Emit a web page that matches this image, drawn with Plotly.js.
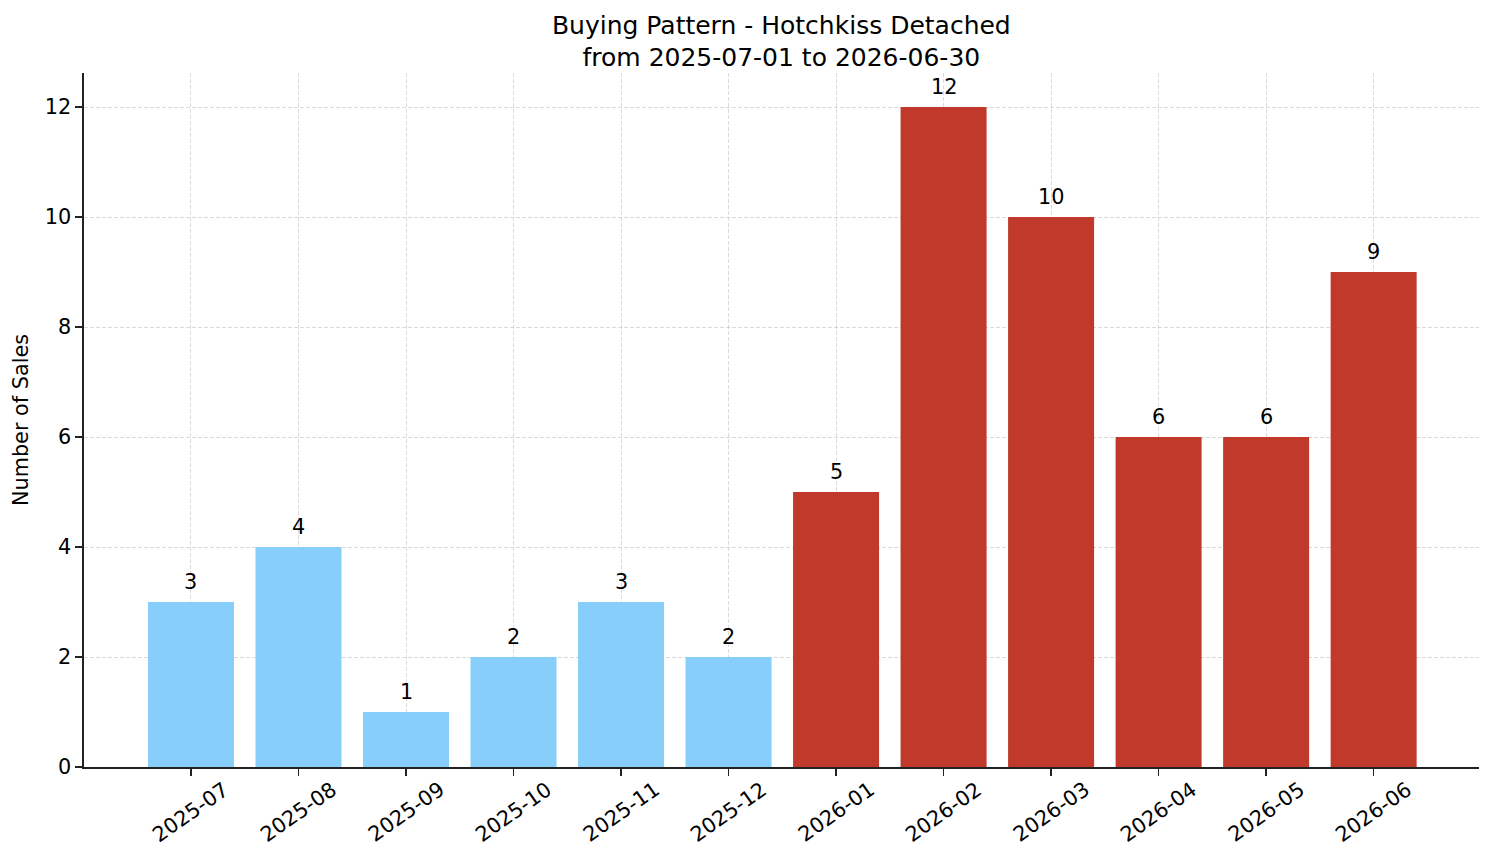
<!DOCTYPE html>
<html>
<head>
<meta charset="utf-8">
<script src="https://cdn.plot.ly/plotly-3.0.1.min.js"></script>
<style>html,body{margin:0;padding:0;background:#fff;}#chart{width:1494px;height:863px;}</style>
</head>
<body>
<div id="chart"></div>
<script>
const months = ["2025-07","2025-08","2025-09","2025-10","2025-11","2025-12","2026-01","2026-02","2026-03","2026-04","2026-05","2026-06"];
const sales = [3,4,1,2,3,2,5,12,10,6,6,9];
const barColors = ["#87CEFA","#87CEFA","#87CEFA","#87CEFA","#87CEFA","#87CEFA","#C0392B","#C0392B","#C0392B","#C0392B","#C0392B","#C0392B"];
const yTicks = [0,2,4,6,8,10,12];

const font = "DejaVu Sans, sans-serif";
const idx = months.map((m,i)=>i);

const trace = {
  type: "bar",
  x: idx,
  y: sales,
  width: 0.8,
  marker: {color: barColors, line: {width: 0}},
  hoverinfo: "skip"
};

const valueLabels = sales.map((v,i)=>({
  x: i, y: v, xref: "x", yref: "y",
  text: String(v), showarrow: false,
  yanchor: "bottom", yshift: 6,
  font: {family: font, size: 20.8, color: "#000"}
}));

const tickLabels = months.map((m,i)=>({
  x: i, y: 0, xref: "x", yref: "paper",
  text: m, showarrow: false, textangle: -35,
  xanchor: "center", yanchor: "middle", yshift: -45,
  font: {family: font, size: 20.8, color: "#000"}
}));

const layout = {
  width: 1494, height: 863,
  margin: {l: 84, r: 15, t: 73, b: 96},
  paper_bgcolor: "#fff", plot_bgcolor: "#fff",
  showlegend: false,
  title: {
    text: "Buying Pattern - Hotchkiss Detached<br>from 2025-07-01 to 2026-06-30",
    font: {family: font, size: 25, color: "#000"},
    x: 0.523, xanchor: "center", yref: "container", y: 0.961, yanchor: "middle"
  },
  xaxis: {
    range: [-0.995, 11.98],
    tickmode: "array", tickvals: idx, showticklabels: false,
    ticks: "outside", ticklen: 7, tickwidth: 1.6, tickcolor: "#222",
    showline: true, linecolor: "#222", linewidth: 1.6,
    showgrid: true, gridcolor: "rgba(170,170,170,0.55)", griddash: "4px,2px", gridwidth: 0.8,
    zeroline: false,
    layer: "above traces"
  },
  yaxis: {
    range: [0, 12.62],
    tickmode: "array", tickvals: yTicks,
    ticks: "outside", ticklen: 7, tickwidth: 1.6, tickcolor: "#222",
    showline: true, linecolor: "#222", linewidth: 1.6,
    showgrid: true, gridcolor: "rgba(170,170,170,0.55)", griddash: "4px,2px", gridwidth: 0.8,
    zeroline: false,
    layer: "above traces",
    tickfont: {family: font, size: 20.8, color: "#000"},
    title: {text: "Number of Sales", font: {family: font, size: 20.8, color: "#000"}, standoff: 10}
  },
  annotations: valueLabels.concat(tickLabels)
};

Plotly.newPlot("chart", [trace], layout, {displayModeBar: false, staticPlot: true});
</script>
</body>
</html>
